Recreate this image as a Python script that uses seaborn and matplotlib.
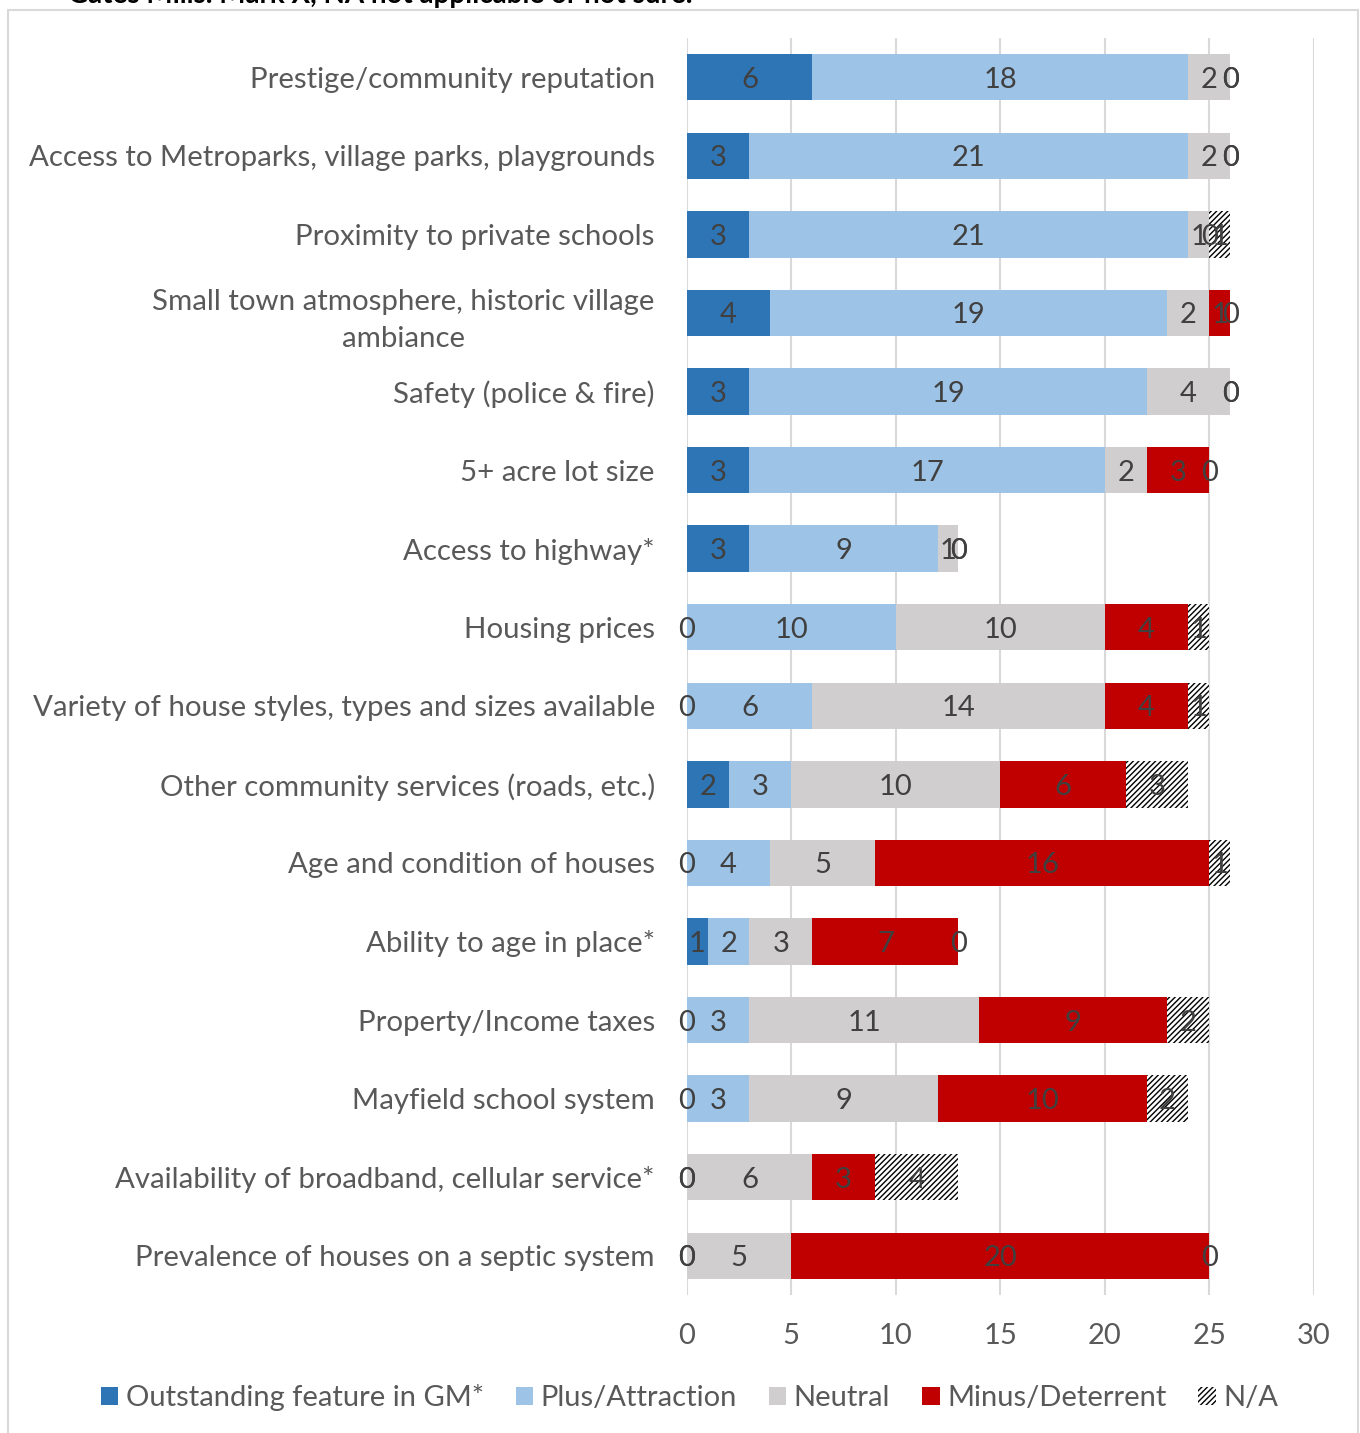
import seaborn as sns
import pandas as pd
import numpy as np
import matplotlib.pyplot as plt
from matplotlib.patches import Patch, Rectangle

sns.set_style("white")
plt.rcParams['font.family'] = ['Lato', 'DejaVu Sans']
plt.rcParams['hatch.linewidth'] = 1.0

categories = [
    "Prestige/community reputation",
    "Access to Metroparks, village parks, playgrounds",
    "Proximity to private schools",
    "Small town atmosphere, historic village\nambiance",
    "Safety (police & fire)",
    "5+ acre lot size",
    "Access to highway*",
    "Housing prices",
    "Variety of house styles, types and sizes available",
    "Other community services (roads, etc.)",
    "Age and condition of houses",
    "Ability to age in place*",
    "Property/Income taxes",
    "Mayfield school system",
    "Availability of broadband, cellular service*",
    "Prevalence of houses on a septic system",
]
outstanding = [6, 3, 3, 4, 3, 3, 3, 0, 0, 2, 0, 1, 0, 0, 0, 0]
plus = [18, 21, 21, 19, 19, 17, 9, 10, 6, 3, 4, 2, 3, 3, 0, 0]
neutral = [2, 2, 1, 2, 4, 2, 1, 10, 14, 10, 5, 3, 11, 9, 6, 5]
minus = [0, 0, 0, 1, 0, 3, 0, 4, 4, 6, 16, 7, 9, 10, 3, 20]
na = [0, 0, 1, 0, 0, 0, 0, 1, 1, 3, 1, 0, 2, 2, 4, 0]

series = ["Outstanding feature in GM*", "Plus/Attraction", "Neutral", "Minus/Deterrent", "N/A"]
colors = ["#2E75B6", "#9DC3E6", "#D0CECE", "#C00000", "white"]
values = np.array([outstanding, plus, neutral, minus, na])
cum = values.cumsum(axis=0)

fig = plt.figure(figsize=(13.6, 14.33), dpi=100)
ax = fig.add_axes([0.505, 0.0963, 0.461, 0.8772])

# draw stacked bars from the longest cumulative layer down
for i in range(len(series) - 1, -1, -1):
    df = pd.DataFrame({"cat": categories, "val": cum[i]})
    kw = dict(linewidth=0)
    if series[i] == "N/A":
        kw = dict(edgecolor="black", linewidth=0, hatch="//////")
    sns.barplot(data=df, x="val", y="cat", order=categories, orient="h",
                color=colors[i], saturation=1, width=0.59, errorbar=None, ax=ax, **kw)

# segment labels
for i in range(len(series)):
    for j in range(len(categories)):
        xc = cum[i][j] - values[i][j] / 2
        ax.text(xc, j, str(values[i][j]), ha="center", va="center_baseline",
                fontsize=21, color="#404040")

ax.set_xlim(0, 30)
ax.set_xticks(range(0, 31, 5))
ax.grid(axis="x", color="#D9D9D9", linewidth=1.5)
ax.set_axisbelow(True)
sns.despine(ax=ax, left=True, bottom=True)
ax.set_xlabel("")
ax.set_ylabel("")
ax.tick_params(axis="x", labelsize=21, labelcolor="#595959", pad=20, length=0)
ax.tick_params(axis="y", labelsize=21.2, labelcolor="#595959", pad=23, length=0)
for lab in ax.get_yticklabels():
    lab.set_multialignment("center")
    lab.set_linespacing(1.5)

handles = [Patch(facecolor=c, edgecolor="black" if s == "N/A" else c,
                 linewidth=0, hatch="//////" if s == "N/A" else None)
           for s, c in zip(series, colors)]
leg = fig.legend(handles, series, loc="center", bbox_to_anchor=(0.507, 0.0245), ncol=5,
                 frameon=False, fontsize=21, handlelength=0.6, handleheight=0.6,
                 handletextpad=0.25, columnspacing=1.1, labelcolor="#595959")

fig.patches.append(Rectangle((8 / 1360, -0.01), 1350 / 1360, 1 - 10 / 1433 + 0.01,
                             transform=fig.transFigure, fill=False,
                             edgecolor="#D9D9D9", linewidth=1.5))
fig.text(68 / 1360, 1.0 + 5 / 1433, "Gates Mills. Mark X, NA not applicable or not sure.",
         ha="left", va="center", fontsize=20, fontweight="bold", color="black")

fig.savefig("out.png", dpi=100)
